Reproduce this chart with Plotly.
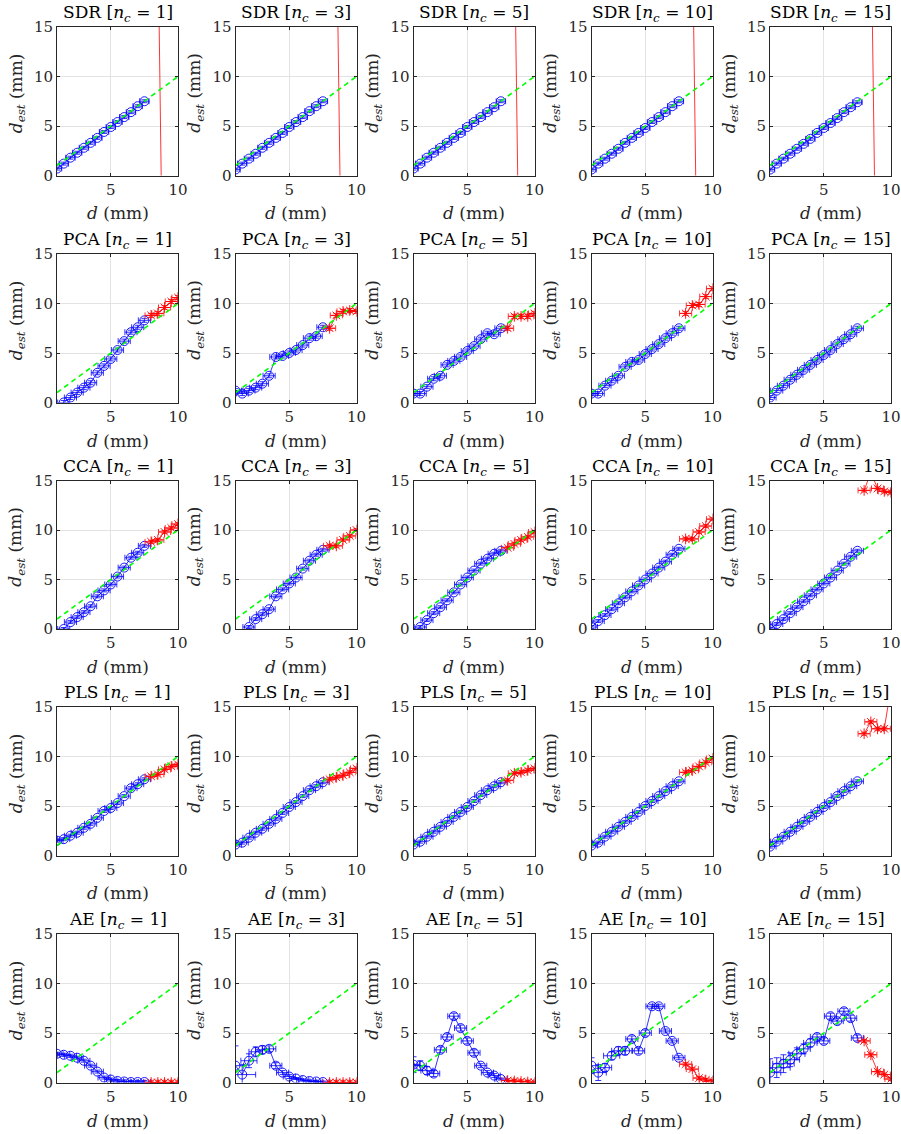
import plotly.graph_objects as go

# ---------------- data ----------------
D_BLUE = [1.0, 1.5, 2.0, 2.5, 3.0, 3.5, 4.0, 4.5, 5.0, 5.5, 6.0, 6.5, 7.0, 7.5]
D_RED = [8.0, 8.5, 9.0, 9.5, 10.0]
GUIDE_D = [1, 10]
GUIDE_EST = [1, 10]
METHODS = ["SDR", "PCA", "CCA", "PLS", "AE"]
NC = [1, 3, 5, 10, 15]
X_TICKS = [5, 10]
Y_TICKS = [0, 5, 10, 15]

SDR_BLUE = {
    1: [0.7, 1.2, 1.8, 2.3, 2.8, 3.3, 3.8, 4.4, 4.9, 5.4, 5.9, 6.4, 7.0, 7.5],
    3: [0.6, 1.2, 1.7, 2.2, 2.8, 3.3, 3.8, 4.3, 4.9, 5.4, 5.9, 6.5, 7.0, 7.5],
    5: [0.7, 1.2, 1.8, 2.3, 2.8, 3.3, 3.8, 4.3, 4.9, 5.4, 5.9, 6.4, 6.9, 7.5],
    10: [0.6, 1.2, 1.7, 2.2, 2.7, 3.3, 3.8, 4.3, 4.8, 5.4, 5.9, 6.4, 7.0, 7.5],
    15: [0.6, 1.2, 1.7, 2.2, 2.7, 3.2, 3.7, 4.3, 4.8, 5.3, 5.8, 6.4, 6.9, 7.4],
}
SDR_RED = {
    1: [60, 25, -25, -60, -80],
    3: [60, 27, -23, -60, -80],
    5: [60, 25, -25, -60, -80],
    10: [60, 25, -25, -60, -80],
    15: [60, 27, -23, -60, -80],
}
PCA_BLUE = {
    1: [-0.5, 0.0, 0.5, 1.0, 1.5, 2.0, 3.0, 3.7, 4.4, 5.3, 6.2, 7.1, 7.6, 8.3],
    3: [1.2, 0.9, 1.2, 1.5, 1.9, 2.7, 4.6, 4.7, 5.0, 5.3, 5.8, 6.5, 6.7, 7.6],
    5: [0.9, 0.9, 1.6, 2.4, 2.7, 3.8, 4.2, 4.6, 5.2, 5.7, 6.4, 7.0, 6.9, 7.5],
    10: [0.9, 0.9, 1.7, 2.2, 2.7, 3.6, 4.1, 4.3, 4.9, 5.4, 5.9, 6.5, 7.0, 7.5],
    15: [0.5, 1.2, 1.7, 2.3, 2.8, 3.3, 3.8, 4.3, 4.8, 5.3, 5.9, 6.4, 6.9, 7.5],
}
PCA_RED = {
    1: [8.8, 9.0, 9.6, 10.2, 10.6],
    3: [7.5, 8.8, 9.2, 9.3, 9.2],
    5: [7.5, 8.7, 8.7, 8.7, 9.0],
    10: [9.0, 9.8, 9.9, 10.7, 11.5],
    15: [40, 45, 50, 55, 60],
}
CCA_BLUE = {
    1: [-0.5, 0.0, 0.7, 1.2, 1.7, 2.3, 3.3, 3.9, 4.5, 5.3, 6.2, 7.2, 7.7, 8.4],
    3: [-1.2, -0.5, 0.2, 1.0, 1.5, 2.0, 3.3, 4.0, 4.6, 5.2, 6.1, 6.9, 7.5, 8.0],
    5: [-0.4, 0.2, 0.9, 1.6, 2.2, 2.9, 3.7, 4.5, 5.2, 5.9, 6.6, 7.1, 7.6, 7.9],
    10: [0.2, 0.8, 1.4, 2.0, 2.6, 3.2, 3.8, 4.4, 5.0, 5.6, 6.2, 6.8, 7.5, 8.1],
    15: [0.0, 0.5, 1.0, 1.6, 2.2, 2.8, 3.4, 4.0, 4.6, 5.2, 5.9, 6.6, 7.3, 7.9],
}
CCA_RED = {
    1: [8.8, 9.0, 9.8, 10.2, 10.6],
    3: [8.4, 8.4, 9.0, 9.4, 10.0],
    5: [8.2, 8.6, 9.0, 9.3, 9.8],
    10: [9.1, 9.1, 9.8, 10.4, 11.1],
    15: [14.0, 15.8, 14.2, 13.9, 13.8],
}
PLS_BLUE = {
    1: [1.5, 1.65, 2.0, 2.3, 2.8, 3.2, 3.8, 4.5, 4.8, 5.3, 6.0, 6.8, 7.2, 7.7],
    3: [1.1, 1.3, 1.8, 2.3, 2.7, 3.2, 3.7, 4.3, 4.9, 5.4, 6.0, 6.6, 7.0, 7.4],
    5: [1.1, 1.4, 1.9, 2.4, 2.9, 3.4, 3.9, 4.4, 4.9, 5.5, 6.1, 6.6, 7.0, 7.4],
    10: [1.0, 1.3, 1.9, 2.4, 2.9, 3.4, 3.9, 4.4, 5.0, 5.5, 6.0, 6.5, 7.0, 7.5],
    15: [0.9, 1.4, 1.9, 2.4, 2.9, 3.4, 3.9, 4.4, 4.9, 5.4, 6.0, 6.5, 7.0, 7.5],
}
PLS_RED = {
    1: [8.0, 8.2, 8.7, 9.0, 9.2],
    3: [7.7, 7.9, 8.1, 8.4, 8.8],
    5: [7.6, 8.3, 8.4, 8.6, 8.8],
    10: [8.4, 8.6, 9.0, 9.4, 9.8],
    15: [12.3, 13.5, 12.8, 12.8, 17.0],
}
AE_BLUE = {
    1: [2.9, 2.8, 2.7, 2.5, 2.2, 1.7, 1.1, 0.5, 0.3, 0.15, 0.1, 0.05, 0.05, 0.05],
    3: [1.7, 0.8, 2.2, 3.1, 3.3, 3.4, 1.7, 1.0, 0.6, 0.4, 0.25, 0.15, 0.1, 0.05],
    5: [1.8, 1.7, 1.2, 0.9, 3.3, 4.6, 6.7, 5.5, 4.2, 3.0, 1.7, 1.0, 0.7, 0.35],
    10: [1.7, 1.0, 1.5, 2.7, 3.2, 3.2, 4.4, 3.2, 5.0, 7.7, 7.7, 5.2, 4.2, 2.5],
    15: [1.0, 1.5, 1.9, 2.3, 2.9, 3.4, 4.0, 4.6, 4.2, 6.7, 6.2, 7.2, 6.5, 4.5],
}
AE_RED = {
    1: [0.0, 0.0, 0.0, 0.0, 0.0],
    3: [0.0, 0.0, 0.0, 0.0, 0.0],
    5: [0.2, 0.15, 0.1, 0.05, 0.0],
    10: [1.85, 1.35, 0.45, 0.25, 0.15],
    15: [4.2, 2.8, 1.1, 0.8, 0.35],
}

# half-widths of the error bars
X_ERR = {"SDR": 0.35, "PCA": 0.45, "CCA": 0.45, "PLS": 0.45, "AE": 0.45}
Y_ERR = {"SDR": 0.15, "PCA": 0.2, "CCA": 0.15, "PLS": 0.15, "AE": 0.15}
AE_X_ERR_BLUE = {
    3: [0.6, 1.0, 0.6, 0.5, 0.5, 0.5, 0.45, 0.45, 0.45, 0.45, 0.45, 0.45, 0.45, 0.45],
    5: [0.45, 0.45, 0.45, 0.45, 0.45, 0.45, 0.45, 0.45, 0.45, 0.45, 0.45, 0.45, 0.45, 0.45],
    10: [0.5, 0.6, 0.5, 0.6, 0.5, 0.5, 0.45, 0.45, 0.45, 0.45, 0.45, 0.45, 0.45, 0.45],
    15: [0.8, 1.0, 0.8, 0.7, 0.6, 0.5, 0.5, 0.5, 0.45, 0.45, 0.45, 0.45, 0.45, 0.45],
}
AE_Y_ERR_BLUE = {
    3: [2.0, 1.0, 0.7, 0.5, 0.4, 0.3, 0.3, 0.2, 0.2, 0.1, 0.1, 0.1, 0.1, 0.1],
    5: [0.8, 0.5, 0.4, 0.3, 0.3, 0.3, 0.3, 0.3, 0.3, 0.3, 0.2, 0.2, 0.2, 0.1],
    10: [0.8, 0.8, 0.4, 0.4, 0.4, 0.4, 0.3, 0.3, 0.3, 0.2, 0.2, 0.2, 0.2, 0.2],
    15: [1.4, 1.0, 0.9, 0.7, 0.6, 0.5, 0.4, 0.3, 0.3, 0.3, 0.3, 0.3, 0.3, 0.3],
}

BLUE = {"SDR": SDR_BLUE, "PCA": PCA_BLUE, "CCA": CCA_BLUE, "PLS": PLS_BLUE, "AE": AE_BLUE}
RED = {"SDR": SDR_RED, "PCA": PCA_RED, "CCA": CCA_RED, "PLS": PLS_RED, "AE": AE_RED}

# ---------------- layout geometry (pixels) ----------------
FIG_W, FIG_H = 901, 1134
COL_LEFT = [57, 235.5, 413.5, 591.5, 770]
AX_W = 121
ROW_TOP = [27, 254, 480.5, 707, 934]
AX_H = 148.5

FONT = "DejaVu Serif, Liberation Serif, Times New Roman, serif"
AXCOL = "#262626"

fig = go.Figure()
annotations = []
layout_axes = {}

for r, method in enumerate(METHODS):
    for c, nc in enumerate(NC):
        i = r * 5 + c + 1
        xa = "x" if i == 1 else f"x{i}"
        ya = "y" if i == 1 else f"y{i}"
        x0 = COL_LEFT[c] / FIG_W
        x1 = (COL_LEFT[c] + AX_W) / FIG_W
        y1 = 1 - ROW_TOP[r] / FIG_H
        y0 = 1 - (ROW_TOP[r] + AX_H) / FIG_H

        if method == "AE" and nc in AE_X_ERR_BLUE:
            ex_blue = dict(type="data", symmetric=True, array=AE_X_ERR_BLUE[nc])
            ey_blue = dict(type="data", symmetric=True, array=AE_Y_ERR_BLUE[nc])
        else:
            ex_blue = dict(type="constant", value=X_ERR[method])
            ey_blue = dict(type="constant", value=Y_ERR[method])
        for e in (ex_blue, ey_blue):
            e.update(color="#0000ff", thickness=0.8, width=3)

        fig.add_trace(go.Scatter(
            x=D_BLUE, y=BLUE[method][nc], xaxis=xa, yaxis=ya,
            mode="lines+markers",
            line=dict(color="#0000ff", width=0.8),
            marker=dict(symbol="circle-open", size=9, color="#0000ff", line=dict(width=0.9)),
            error_x=ex_blue, error_y=ey_blue, showlegend=False, hoverinfo="skip"))

        fig.add_trace(go.Scatter(
            x=D_RED, y=RED[method][nc], xaxis=xa, yaxis=ya,
            mode="lines+markers",
            line=dict(color="#ff0000", width=0.8),
            marker=dict(symbol="asterisk-open", size=9, color="#ff0000", line=dict(width=0.9, color="#ff0000")),
            error_x=dict(type="constant", value=X_ERR[method], color="#ff0000", thickness=0.8, width=3),
            error_y=dict(type="constant", value=Y_ERR[method], color="#ff0000", thickness=0.8, width=3),
            showlegend=False, hoverinfo="skip"))

        fig.add_trace(go.Scatter(
            x=GUIDE_D, y=GUIDE_EST, xaxis=xa, yaxis=ya, mode="lines",
            line=dict(color="#00ff00", width=1.6, dash="5px,4px"),
            showlegend=False, hoverinfo="skip"))

        axcommon = dict(showline=True, linecolor=AXCOL, linewidth=1, mirror="ticks",
                        ticks="inside", ticklen=3, tickcolor=AXCOL,
                        showgrid=True, gridcolor="#e3e3e3", gridwidth=1, zeroline=False,
                        tickfont=dict(family=FONT, size=15, color=AXCOL), fixedrange=True)
        layout_axes["xaxis" if i == 1 else f"xaxis{i}"] = dict(
            domain=[x0, x1], range=[1, 10], tickvals=X_TICKS, anchor=ya, **axcommon)
        layout_axes["yaxis" if i == 1 else f"yaxis{i}"] = dict(
            domain=[y0, y1], range=[0, 15], tickvals=Y_TICKS, anchor=xa, **axcommon)

        cx = (x0 + x1) / 2
        # title
        annotations.append(dict(
            text=f"{method} [<i>n</i><sub><i>c</i></sub> = {nc}]",
            x=cx, y=y1, xref="paper", yref="paper", xanchor="center", yanchor="bottom",
            yshift=0, showarrow=False, font=dict(family=FONT, size=17, color="#000000")))
        # x label
        annotations.append(dict(
            text="<i>d</i> (mm)",
            x=cx, y=y0 - 38 / FIG_H, xref="paper", yref="paper", xanchor="center", yanchor="middle",
            showarrow=False, font=dict(family=FONT, size=17, color=AXCOL)))
        # y label
        annotations.append(dict(
            text="<i>d</i><sub><i>est</i></sub> (mm)",
            x=x0 - 40 / FIG_W, y=(y0 + y1) / 2 + 8 / FIG_H, xref="paper", yref="paper",
            xanchor="center", yanchor="middle", textangle=-90,
            showarrow=False, font=dict(family=FONT, size=17, color=AXCOL)))

fig.update_layout(
    width=FIG_W, height=FIG_H,
    margin=dict(l=0, r=0, t=0, b=0, autoexpand=False),
    paper_bgcolor="#ffffff", plot_bgcolor="#ffffff",
    font=dict(family=FONT),
    annotations=annotations,
    **layout_axes)

POST = ("document.body.style.margin='0';document.body.style.padding='0';"
        "document.body.style.overflow='hidden';document.documentElement.style.overflow='hidden';")
fig.write_html("out.html", post_script=POST, config={"displayModeBar": False, "staticPlot": True})
